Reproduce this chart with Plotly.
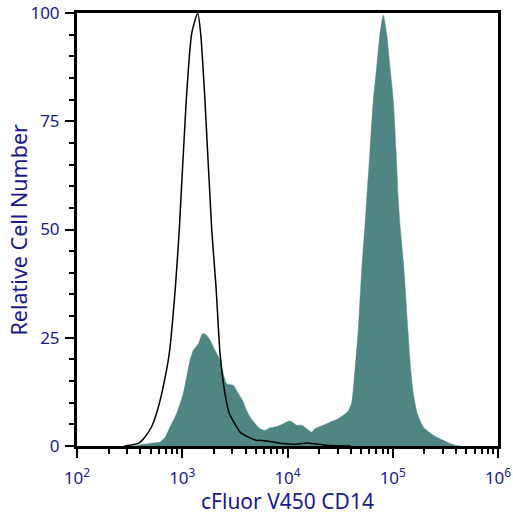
import plotly.graph_objects as go

# Unstained / isotype control (open black histogram)
ctrl_x = [282, 319, 382, 443, 513, 571, 638, 753, 859, 938, 1091, 1230, 1403, 1496, 1644,
          1905, 2094, 2286, 2547, 2799, 3289, 3540, 4217, 5093, 5470, 7328, 9120, 11750,
          15200, 18920, 25120, 39810]
ctrl_y = [0, 0.2, 0.6, 2.1, 4.5, 7.6, 12.1, 21.4, 36.4, 50.1, 79.8, 95.3, 100, 95.3, 79.8,
          50, 36.7, 21.4, 12.1, 7.5, 4.4, 3.2, 2.1, 1.3, 1.3, 0.9, 0.55, 0.4,
          0.7, 0.45, 0.1, 0]

# Stained sample (filled histogram)
stain_x = [355, 427, 494, 615, 686, 766, 885, 1023, 1186, 1274, 1422, 1563, 1706, 1837, 2046,
           2286, 2455, 2642, 3055, 3412, 3802, 3945, 4406, 4909, 5483, 6109, 6823, 7603, 8492,
           10570, 12220, 13650, 15200, 16980, 18240, 21880, 25350, 29310, 33880, 37840, 40740,
           43750, 47100, 50700, 54450, 56490, 60810, 65310, 70470, 75680, 81280, 87500, 94190,
           101200, 107400, 113000, 117200, 127900, 137400, 148300, 156700, 171000, 195000,
           242700, 302000, 349900, 389900, 436500]
stain_y = [0, 0.4, 0.6, 0.9, 2.0, 4.4, 7.5, 12.1, 19.8, 22.1, 23.6, 26.0, 25.6, 24.4, 22.1,
           19.8, 16.7, 14.4, 14.0, 12.1, 10.2, 9.0, 6.7, 5.2, 4.0, 3.6, 4.2, 4.4, 4.8,
           5.8, 4.8, 4.8, 4.0, 3.2, 4.0, 4.8, 5.5, 6.1, 7.1, 8.1, 10.0,
           17.5, 27, 40.6, 51, 56.7, 68.3, 79.8, 87.5, 95.2, 99.5, 95.2, 87.5,
           79.8, 68.3, 56.7, 51, 40.6, 29, 17.5, 12.1, 7.5, 4.4,
           2.5, 1.3, 0.55, 0.2, 0]

x_tickvals = [1e2, 1e3, 1e4, 1e5, 1e6]
x_ticktext = ["10<sup>2</sup>", "10<sup>3</sup>", "10<sup>4</sup>", "10<sup>5</sup>", "10<sup>6</sup>"]
x_minor = [m * 10 ** e for e in range(2, 6) for m in range(2, 10)]
y_tickvals = [0, 25, 50, 75, 100]
x_title = "cFluor V450 CD14"
y_title = "Relative Cell Number"

NAVY = "#1a1a8c"
FONT = "Noto Sans"

fig = go.Figure()
fig.add_trace(go.Scatter(x=stain_x, y=stain_y, mode="lines", fill="tozeroy",
                         fillcolor="#4f8583", line=dict(color="#4f8583", width=0.5, shape="spline", smoothing=0.6),
                         hoverinfo="skip", showlegend=False))
fig.add_trace(go.Scatter(x=ctrl_x, y=ctrl_y, mode="lines",
                         line=dict(color="black", width=1.5, shape="spline", smoothing=0.6),
                         hoverinfo="skip", showlegend=False))

fig.update_layout(
    width=513, height=514,
    margin=dict(l=77, r=15, t=13, b=68),
    paper_bgcolor="white", plot_bgcolor="white",
    font=dict(family=FONT, color=NAVY),
    xaxis=dict(
        type="log", range=[2, 6], automargin=False,
        tickvals=x_tickvals, ticktext=x_ticktext,
        ticks="outside", ticklen=9, tickwidth=2, tickcolor="black",
        ticklabelstandoff=6, ticklabeloverflow="allow",
        tickfont=dict(size=17, color=NAVY, family=FONT),
        minor=dict(tickvals=x_minor, ticks="outside", ticklen=5, tickwidth=2, tickcolor="black"),
        showline=True, linewidth=3, linecolor="black", mirror=True,
        showgrid=False, zeroline=False,
    ),
    yaxis=dict(
        range=[0, 100], automargin=False,
        tickvals=y_tickvals,
        ticks="outside", ticklen=9, tickwidth=2, tickcolor="black",
        ticklabelstandoff=2, ticklabeloverflow="allow",
        tickfont=dict(size=17, color=NAVY, family=FONT),
        minor=dict(dtick=5, ticks="outside", ticklen=5, tickwidth=2, tickcolor="black"),
        showline=True, linewidth=3, linecolor="black", mirror=True,
        showgrid=False, zeroline=False,
    ),
    annotations=[
        dict(text=x_title, xref="paper", yref="paper", x=0.5, y=0, yshift=-55,
             xanchor="center", yanchor="middle", showarrow=False,
             font=dict(size=21, color=NAVY, family=FONT)),
        dict(text=y_title, xref="paper", yref="paper", x=0, y=0.5, xshift=-59,
             xanchor="center", yanchor="middle", textangle=-90, showarrow=False,
             font=dict(size=21.5, color=NAVY, family=FONT)),
    ],
)

# remove the browser's default 8px body margin so the figure sits at the window origin
fig.write_html("out.html", config={"displayModeBar": False},
               post_script="document.body.style.margin='0';")
